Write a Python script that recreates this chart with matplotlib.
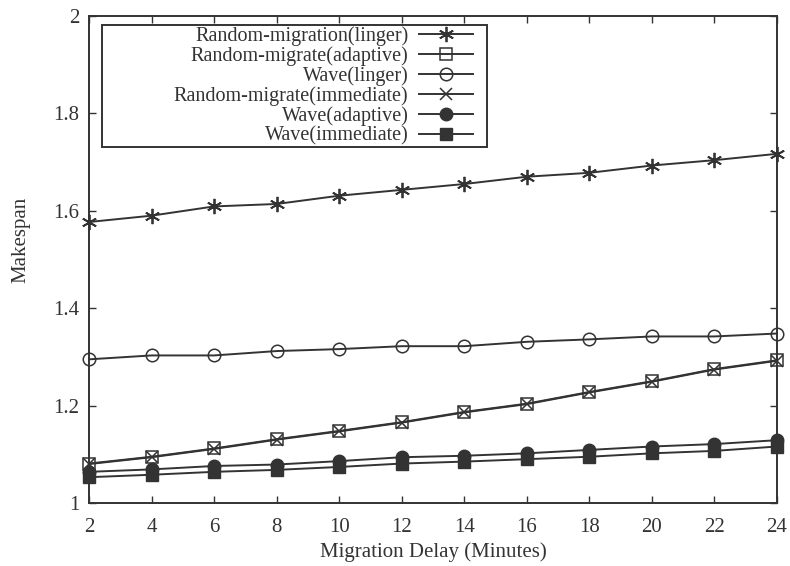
import matplotlib
matplotlib.use("Agg")
import matplotlib.pyplot as plt
from matplotlib.patches import Rectangle

delay = [2, 4, 6, 8, 10, 12, 14, 16, 18, 20, 22, 24]

rand_linger = [1.577, 1.590, 1.609, 1.614, 1.631, 1.643, 1.655, 1.670, 1.678, 1.693, 1.704, 1.717]
rand_adaptive = [1.081, 1.095, 1.112, 1.131, 1.148, 1.166, 1.187, 1.204, 1.228, 1.250, 1.275, 1.293]
wave_linger = [1.295, 1.303, 1.303, 1.312, 1.316, 1.322, 1.322, 1.331, 1.336, 1.342, 1.342, 1.348]
rand_immediate = [1.080, 1.094, 1.111, 1.130, 1.147, 1.165, 1.186, 1.203, 1.227, 1.249, 1.274, 1.292]
wave_adaptive = [1.064, 1.069, 1.076, 1.079, 1.086, 1.094, 1.097, 1.102, 1.109, 1.116, 1.121, 1.129]
wave_immediate = [1.053, 1.058, 1.064, 1.068, 1.074, 1.081, 1.085, 1.090, 1.095, 1.102, 1.107, 1.116]

labels = ["Random-migration(linger)", "Random-migrate(adaptive)", "Wave(linger)",
          "Random-migrate(immediate)", "Wave(adaptive)", "Wave(immediate)"]

x_ticks = [2, 4, 6, 8, 10, 12, 14, 16, 18, 20, 22, 24]
y_ticks = [1, 1.2, 1.4, 1.6, 1.8, 2]
y_tick_labels = ["1", "1.2", "1.4", "1.6", "1.8", "2"]

ink = "#333333"
plt.rcParams["font.family"] = ["Liberation Serif", "DejaVu Serif"]

W, H = 790, 566
L, R, T, B = 89, 777, 16, 503
fig = plt.figure(figsize=(W / 100, H / 100), dpi=100)
ax = fig.add_axes([L / W, 1 - B / H, (R - L) / W, (B - T) / H])


def ax_x(px):
    return (px - L) / (R - L)


def ax_y(py):
    return (B - py) / (B - T)


series = [
    (rand_linger, dict(marker=(6, 2, 0), markersize=11, markeredgewidth=1.3, markerfacecolor="none")),
    (rand_adaptive, dict(marker="s", markersize=9, markeredgewidth=1.1, markerfacecolor="none")),
    (wave_linger, dict(marker="o", markersize=9, markeredgewidth=1.1, markerfacecolor="none")),
    (rand_immediate, dict(marker="x", markersize=8, markeredgewidth=1.1)),
    (wave_adaptive, dict(marker="o", markersize=9, markerfacecolor=ink)),
    (wave_immediate, dict(marker="s", markersize=9, markerfacecolor=ink)),
]

for (vals, style), lab in zip(series, labels):
    ax.plot(delay, vals, color=ink, linewidth=1.4, markeredgecolor=ink,
            label=lab, clip_on=False, **style)

ax.set_xlim(2, 24)
ax.set_ylim(1, 2)
ax.set_xticks(x_ticks)
ax.set_xticklabels([str(t) for t in x_ticks])
ax.set_yticks(y_ticks)
ax.set_yticklabels(y_tick_labels)
ax.tick_params(direction="in", top=True, right=True, length=5, width=1,
               colors=ink, labelsize=15)
ax.tick_params(axis="x", pad=11)
ax.tick_params(axis="y", pad=7)
for sp in ax.spines.values():
    sp.set_color(ink)
    sp.set_linewidth(1.4)

ax.set_xlabel("Migration Delay (Minutes)", fontsize=15, color=ink, labelpad=3.5)
ax.set_ylabel("Makespan", fontsize=15, color=ink)
ax.yaxis.set_label_coords(-0.085, 0.54)

# key box, wider than its contents
ax.add_patch(Rectangle((ax_x(102), ax_y(147)), ax_x(487) - ax_x(102), ax_y(25) - ax_y(147),
                       transform=ax.transAxes, facecolor="white", edgecolor=ink,
                       linewidth=1.4, zorder=4))

leg = ax.legend(loc="upper right", bbox_to_anchor=(ax_x(473), ax_y(26)), markerfirst=False,
                alignment="right", fontsize=14.5, frameon=False,
                handlelength=2.7, labelspacing=0.02, borderpad=0.0,
                handletextpad=0.5, borderaxespad=0)
leg.set_zorder(5)
for t in leg.get_texts():
    t.set_color(ink)

fig.savefig("out.png", dpi=100)
